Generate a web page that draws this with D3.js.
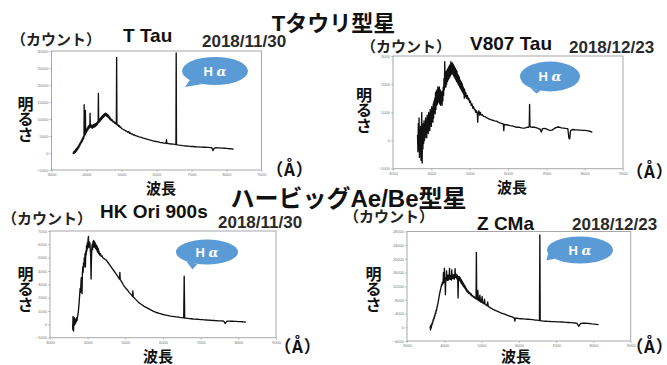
<!DOCTYPE html>
<html>
<head>
<meta charset="utf-8">
<script src="https://cdn.jsdelivr.net/npm/d3@7"></script>
<style>
  html, body { margin: 0; padding: 0; background: #fff; }
  svg { display: block; }
  .lbl { font-family: "Liberation Sans", "Noto Sans CJK JP", sans-serif; font-weight: bold; }
  .jp { font-family: "Noto Sans CJK JP", sans-serif; font-weight: bold; }
  .unit { font-family: "Noto Sans CJK JP", sans-serif; font-weight: bold; font-feature-settings: "palt" 1; }
  .tick text { font-family: "Liberation Sans", sans-serif; font-size: 4px; fill: #777; }
  .tick line { stroke: #999; stroke-width: 0.6; }
</style>
</head>
<body>
<svg id="chart" width="667" height="365"></svg>
<script>
// ---- spectra: [wavelength (Å), counts] ----
const tTau = [
  [3620,-300],[3630,300],[3640,-200],[3650,500],[3660,0],[3670,700],[3680,200],[3690,1000],[3700,400],[3710,1300],
  [3720,700],[3730,1500],[3740,1000],[3750,1800],[3760,1300],[3770,2100],[3780,1600],[3790,2500],[3800,2000],[3810,2900],
  [3820,2400],[3830,3200],[3840,2800],[3850,3600],[3860,3100],[3870,4000],[3880,3500],[3890,4400],[3900,3900],[3910,4900],
  [3920,4300],[3928,5200],[3934,14200],[3940,5000],[3950,5900],[3960,5300],[3968,12500],[3976,5800],[3985,6600],[3995,6000],
  [4005,7000],[4015,6400],[4025,7400],[4035,6800],[4045,7800],[4055,7100],[4065,8000],[4075,7300],[4085,8200],[4094,7600],
  [4102,11700],[4110,7700],[4120,8300],[4130,7500],[4140,8200],[4150,7400],[4160,8100],[4170,7300],[4180,8200],[4190,7500],
  [4200,8300],[4210,7600],[4220,8400],[4230,7700],[4240,8500],[4250,7800],[4260,8600],[4270,8000],[4280,8700],[4290,8200],
  [4300,9000],[4310,8400],[4320,9200],[4332,8800],[4340,17500],[4348,9000],[4360,9800],[4370,9200],[4380,10000],[4390,9400],
  [4400,10300],[4410,9700],[4420,10500],[4430,9900],[4440,10800],[4450,10200],[4460,11000],[4470,10400],[4480,11200],[4490,10600],
  [4500,11400],[4510,10800],[4520,11600],[4530,11000],[4540,11700],[4550,11000],[4560,11600],[4570,10900],[4580,11500],[4590,10800],
  [4600,11300],[4610,10600],[4620,11100],[4630,10400],[4640,10900],[4650,10200],[4660,10600],[4670,9900],[4680,10300],[4690,9700],
  [4700,10000],[4720,9500],[4740,9700],[4760,9100],[4780,9300],[4800,8800],[4820,9000],[4840,8500],[4853,8700],[4861,28100],
  [4869,8400],[4880,8200],[4900,8300],[4920,7800],[4940,8000],[4960,7500],[4980,7600],[5000,7200],[5030,7100],[5060,6800],
  [5090,6800],[5120,6500],[5150,6400],[5180,6100],[5210,6300],[5225,5800],[5250,5900],[5280,5600],[5310,5600],[5340,5300],
  [5370,5350],[5400,5100],[5450,4950],[5500,4750],[5550,4650],[5600,4450],[5650,4300],[5700,4150],[5750,4000],[5800,3850],
  [5850,3700],[5900,3550],[5950,3450],[6000,3350],[6050,3250],[6100,3100],[6150,3050],[6200,2950],[6250,2900],[6275,2850],
  [6285,3900],[6295,2850],[6330,2800],[6380,2700],[6430,2650],[6480,2600],[6530,2550],[6555,2500],[6563,29400],[6571,2500],
  [6600,2400],[6650,2300],[6700,2250],[6750,2150],[6800,2100],[6850,2050],[6900,2000],[6950,1950],[7000,1900],[7050,1900],
  [7100,1850],[7150,1800],[7200,1800],[7250,1750],[7300,1750],[7350,1700],[7400,1700],[7450,1650],[7500,1650],[7550,1600],
  [7580,1550],[7600,1000],[7615,700],[7630,1100],[7660,1450],[7700,1550],[7750,1500],[7800,1500],[7850,1450],[7900,1450],
  [7950,1400],[8000,1350],[8050,1300],[8100,1250],[8150,1200],[8200,1100]
];

const v807Tau = [
  [3640,200],[3650,-400],[3660,600],[3670,-300],[3680,800],[3690,-600],[3700,300],[3710,-200],[3720,500],[3730,-700],
  [3740,200],[3750,1000],[3760,-800],[3770,400],[3780,-300],[3790,600],[3800,-100],[3810,700],[3820,0],[3830,500],
  [3840,100],[3850,800],[3860,200],[3870,700],[3880,100],[3890,900],[3900,300],[3910,800],[3920,250],[3930,1000],
  [3940,400],[3950,900],[3960,350],[3970,1100],[3980,600],[3990,1000],[4000,500],[4010,1200],[4020,700],[4030,1100],
  [4040,650],[4050,1300],[4060,800],[4070,1400],[4080,1000],[4090,1500],[4100,950],[4110,1700],[4120,1100],[4130,1750],
  [4140,1250],[4150,1800],[4160,1300],[4170,1900],[4180,1400],[4190,1850],[4200,1350],[4210,1900],[4220,1300],[4230,1800],
  [4240,1250],[4250,1750],[4260,1300],[4270,1700],[4280,1250],[4290,1750],[4300,1400],[4310,1900],[4320,1600],[4330,2200],
  [4340,1800],[4350,2800],[4360,1900],[4370,2300],[4380,1900],[4390,2450],[4400,2000],[4410,2500],[4420,2100],[4430,2550],
  [4440,2150],[4450,2600],[4460,2200],[4470,2650],[4480,2250],[4490,2700],[4500,2300],[4510,2800],[4520,2350],[4530,2700],
  [4540,2400],[4550,2750],[4560,2350],[4570,2700],[4580,2300],[4590,2650],[4600,2250],[4610,2600],[4620,2200],[4630,2550],
  [4640,2150],[4650,2500],[4660,2100],[4670,2450],[4680,2050],[4690,2350],[4700,2000],[4710,2300],[4720,1950],[4730,2250],
  [4740,1900],[4750,2150],[4760,1850],[4770,2100],[4780,1800],[4790,2050],[4800,1750],[4810,2000],[4820,1700],[4830,1900],
  [4840,1650],[4850,1850],[4860,1500],[4870,1800],[4880,1550],[4900,1700],[4920,1500],[4940,1600],[4960,1450],[4980,1500],
  [5000,1350],[5020,1400],[5040,1250],[5060,1300],[5080,1150],[5100,1200],[5120,1100],[5140,1100],[5160,1000],[5180,1050],
  [5200,950],[5210,650],[5220,950],[5240,1050],[5260,900],[5280,1000],[5300,900],[5330,920],[5360,860],[5400,850],
  [5450,800],[5500,770],[5550,740],[5600,720],[5650,700],[5700,690],[5750,650],[5800,620],[5850,600],[5880,580],
  [5890,350],[5900,570],[5950,560],[6000,550],[6050,530],[6100,520],[6150,500],[6200,480],[6250,470],[6300,470],
  [6350,450],[6400,440],[6450,450],[6500,470],[6540,470],[6555,520],[6563,1280],[6572,520],[6590,480],[6650,470],
  [6700,470],[6750,450],[6800,420],[6840,400],[6870,300],[6900,420],[6950,430],[7000,410],[7050,380],[7100,360],
  [7150,370],[7200,420],[7250,460],[7300,480],[7350,470],[7400,450],[7450,440],[7500,430],[7560,420],[7590,80],
  [7610,60],[7630,340],[7660,380],[7700,390],[7750,380],[7800,380],[7850,370],[7900,370],[7950,360],[8000,360],
  [8050,350],[8100,340],[8150,320],[8200,300]
];

const hkOri = [
  [3600,0],[3605,-400],[3610,600],[3615,-300],[3620,400],[3625,-500],[3630,300],[3640,-100],[3650,500],[3660,0],
  [3670,300],[3680,100],[3690,400],[3700,200],[3710,500],[3720,300],[3730,600],[3740,700],[3750,900],[3760,1200],
  [3770,1500],[3780,1900],[3790,2300],[3800,2700],[3810,2400],[3820,3000],[3830,3500],[3840,3200],[3850,2300],[3860,3800],
  [3870,4300],[3880,3900],[3890,4600],[3900,4300],[3910,5000],[3920,4700],[3930,5300],[3940,4300],[3950,5500],[3960,5200],
  [3970,5900],[3980,5500],[3990,6100],[4000,5700],[4010,6300],[4020,6600],[4030,5800],[4040,6200],[4050,5800],[4060,6100],
  [4070,5600],[4080,5200],[4090,3400],[4100,4800],[4110,5700],[4120,6000],[4130,5600],[4140,6200],[4150,5800],[4160,6300],
  [4170,5800],[4180,6200],[4190,5800],[4200,6100],[4210,5700],[4220,6000],[4230,5600],[4240,5900],[4250,5500],[4260,5800],
  [4270,5400],[4280,5700],[4290,5300],[4300,5500],[4320,5200],[4340,5300],[4360,5100],[4380,5150],[4400,5000],[4450,4900],
  [4500,4800],[4550,4600],[4600,4400],[4650,4200],[4700,4000],[4750,3800],[4800,3600],[4845,3400],[4855,3900],[4865,3350],
  [4900,3200],[4950,2950],[5000,2750],[5050,2600],[5100,2400],[5150,2250],[5190,2100],[5200,2500],[5210,2050],[5250,1950],
  [5300,1800],[5350,1650],[5400,1550],[5450,1450],[5500,1350],[5550,1280],[5600,1200],[5650,1120],[5700,1050],[5750,980],
  [5800,920],[5850,870],[5900,820],[5950,780],[6000,740],[6050,710],[6100,680],[6150,650],[6200,620],[6250,600],
  [6300,580],[6350,560],[6400,540],[6450,520],[6500,510],[6550,490],[6563,3620],[6576,480],[6600,470],[6650,450],
  [6700,430],[6750,420],[6800,400],[6850,390],[6900,380],[6950,370],[7000,360],[7050,350],[7100,340],[7150,330],
  [7200,320],[7250,310],[7300,300],[7350,290],[7400,280],[7450,270],[7500,265],[7550,260],[7600,250],[7630,180],
  [7650,60],[7670,150],[7700,240],[7750,240],[7800,235],[7850,230],[7900,225],[7950,220],[8000,210],[8050,200],
  [8100,195],[8150,185],[8200,170]
];

const zCMa = [
  [3620,300],[3630,-800],[3640,600],[3650,-200],[3660,900],[3670,600],[3680,1500],[3690,1300],[3700,2200],[3710,2000],
  [3720,2800],[3730,2600],[3740,3500],[3750,3300],[3760,4200],[3770,4000],[3780,5000],[3790,4800],[3800,5600],[3810,6000],
  [3820,6600],[3830,7000],[3840,7700],[3850,8200],[3860,8900],[3870,9500],[3880,10100],[3890,10600],[3900,11100],[3910,11600],
  [3920,12000],[3930,12600],[3940,12300],[3950,13200],[3960,12700],[3970,13800],[3978,16000],[3986,13000],[3995,14000],[4003,17300],
  [4011,13500],[4020,14400],[4030,9500],[4040,14200],[4050,13600],[4060,16500],[4070,14000],[4080,14800],[4090,13700],[4101,15300],
  [4110,13800],[4120,14800],[4130,14000],[4140,17300],[4150,14200],[4160,15200],[4170,14000],[4180,15000],[4190,13800],[4200,16800],
  [4210,14300],[4220,15200],[4230,14200],[4240,15400],[4250,14300],[4260,15200],[4270,14100],[4280,15300],[4290,17100],[4300,14600],
  [4310,15600],[4320,14500],[4330,15400],[4340,14100],[4350,15200],[4360,14000],[4370,8600],[4380,13800],[4390,14900],[4400,13900],
  [4410,14700],[4420,13600],[4430,14400],[4440,13200],[4450,14100],[4460,12800],[4470,13600],[4480,12500],[4490,13300],[4500,12200],
  [4510,12900],[4520,11900],[4530,12500],[4540,11600],[4550,12200],[4560,11300],[4570,11800],[4580,10900],[4590,11400],[4600,10600],
  [4610,11000],[4620,10300],[4640,10600],[4660,9900],[4680,10200],[4700,9500],[4720,9800],[4740,9100],[4760,9300],[4780,8800],
  [4800,9000],[4820,8500],[4840,8600],[4852,8300],[4861,21900],[4870,8200],[4885,8100],[4900,10800],[4915,7900],[4935,7700],
  [4955,9400],[4970,7500],[4990,7300],[5015,9000],[5030,7100],[5060,6900],[5080,8200],[5095,6700],[5120,6500],[5145,6300],
  [5165,7400],[5180,6100],[5210,5900],[5240,5700],[5270,5500],[5300,5300],[5340,5100],[5380,4900],[5420,4700],[5460,4500],
  [5500,4300],[5550,4100],[5600,3900],[5650,3700],[5700,3500],[5750,3300],[5800,3100],[5850,2900],[5880,2700],[5893,1800],
  [5906,2700],[5950,2650],[6000,2550],[6060,2500],[6120,2450],[6180,2400],[6240,2350],[6300,2300],[6360,2250],[6420,2150],
  [6480,2100],[6530,2050],[6553,2000],[6563,27000],[6573,1950],[6610,1900],[6670,1800],[6730,1780],[6790,1750],[6850,1700],
  [6910,1680],[6970,1650],[7030,1600],[7090,1580],[7150,1550],[7210,1500],[7270,1450],[7330,1400],[7390,1350],[7450,1300],
  [7510,1250],[7560,1150],[7590,600],[7610,300],[7630,700],[7660,1150],[7720,1200],[7780,1200],[7840,1150],[7900,1100],
  [7960,1000],[8020,950],[8080,880],[8140,800]
];

// ---- axis ticks ----
const wavelengthTicks = [3000, 4000, 5000, 6000, 7000, 8000, 9000];
const tTauCountTicks = [-5000, 0, 5000, 10000, 15000, 20000, 25000, 30000];
const v807TauCountTicks = [-1000, 0, 1000, 2000, 3000];
const hkOriCountTicks = [-1000, 0, 1000, 2000, 3000, 4000, 5000, 6000, 7000];
const zCMaCountTicks = [-4000, 0, 4000, 8000, 12000, 16000, 20000, 24000, 28000];

// ---- labels ----
const groupTitles = ["Tタウリ型星", "ハービッグAe/Be型星"];
const starNames = ["T Tau", "V807 Tau", "HK Ori 900s", "Z CMa"];
const obsDates = ["2018/11/30", "2018/12/23", "2018/11/30", "2018/12/23"];
const spectra = [tTau, v807Tau, hkOri, zCMa];
const countTicks = [tTauCountTicks, v807TauCountTicks, hkOriCountTicks, zCMaCountTicks];
const countLabel = "（カウント）";
const brightnessLabel = "明るさ";
const wavelengthLabel = "波長";
const unitLabel = "（Å）";

// ---- layout of the four panels ----
const layout = [
  { box: [51.5, 261.5, 51, 170], count: [11, 45], name: [123, 42], date: [202, 47],
    bright: [25.5, 104], unit: [274, 176], wave: [161, 194],
    bubble: { cx: 215, cy: 71, rx: 33, ry: 14, tip: [185, 87], a0: 112, a1: 140 } },
  { box: [393, 623, 56, 168.7], count: [361, 52], name: [470, 50], date: [569, 53],
    bright: [364, 95], unit: [634, 178], wave: [512, 193],
    bubble: { cx: 550, cy: 76.5, rx: 30, ry: 15, tip: [536.5, 93.5], a0: 108, a1: 132 } },
  { box: [50, 276, 231, 337.7], count: [2, 224], name: [100, 218], date: [218, 228],
    bright: [25.5, 274], unit: [282, 353], wave: [158, 362],
    bubble: { cx: 207, cy: 252, rx: 31, ry: 12.5, tip: [192.5, 269.5], a0: 108, a1: 132 } },
  { box: [407, 630.7, 231.5, 341], count: [344, 222], name: [477, 230], date: [572, 230],
    bright: [373.5, 274], unit: [634, 353], wave: [516, 361.5],
    bubble: { cx: 580, cy: 250, rx: 33, ry: 13.5, tip: [546.5, 260.5], a0: 140, a1: 165 } }
];

const svg = d3.select("#chart");

// group headings
svg.append("text").attr("class", "lbl").attr("x", 333.5).attr("y", 31)
  .attr("text-anchor", "middle").attr("font-size", 22).attr("fill", "#111").text(groupTitles[0]);
svg.append("text").attr("class", "lbl").attr("x", 348.5).attr("y", 207)
  .attr("text-anchor", "middle").attr("font-size", 24).attr("fill", "#111").text(groupTitles[1]);

spectra.forEach((data, i) => {
  const L = layout[i];
  const [x0, x1, y0, y1] = L.box;
  const ticks = countTicks[i];
  const x = d3.scaleLinear().domain([3000, 9000]).range([x0, x1]);
  const y = d3.scaleLinear().domain([ticks[0], ticks[ticks.length - 1]]).range([y1, y0]);
  const g = svg.append("g");

  // frame
  g.append("rect").attr("x", x0).attr("y", y0).attr("width", x1 - x0).attr("height", y1 - y0)
    .attr("fill", "none").attr("stroke", "#a8a8a8").attr("stroke-width", 1);

  const ax = g.append("g").attr("transform", `translate(0,${y1})`)
    .call(d3.axisBottom(x).tickValues(wavelengthTicks).tickSize(2).tickPadding(1).tickFormat(d3.format("d")));
  ax.select(".domain").remove();
  const ay = g.append("g").attr("transform", `translate(${x0},0)`)
    .call(d3.axisLeft(y).tickValues(ticks).tickSize(2).tickPadding(1).tickFormat(d3.format("d")));
  ay.select(".domain").remove();

  // spectrum
  const line = d3.line().x(d => x(d[0])).y(d => y(d[1]));
  g.append("path").datum(data).attr("d", line)
    .attr("fill", "none").attr("stroke", "#111").attr("stroke-width", 1.35)
    .attr("stroke-linejoin", "round");

  // speech bubble marking H-alpha
  const b = L.bubble;
  const rad = a => a * Math.PI / 180;
  const p0 = [b.cx + b.rx * Math.cos(rad(b.a0)), b.cy + b.ry * Math.sin(rad(b.a0))];
  const p1 = [b.cx + b.rx * Math.cos(rad(b.a1)), b.cy + b.ry * Math.sin(rad(b.a1))];
  g.append("path").attr("d", `M${p0[0]},${p0[1]}L${b.tip[0]},${b.tip[1]}L${p1[0]},${p1[1]}Z`)
    .attr("fill", "#5b9bd5");
  g.append("ellipse").attr("cx", b.cx).attr("cy", b.cy).attr("rx", b.rx).attr("ry", b.ry)
    .attr("fill", "#5b9bd5");
  const ha = g.append("text").attr("class", "lbl").attr("x", b.cx).attr("y", b.cy + 4.5)
    .attr("text-anchor", "middle").attr("font-size", 13).attr("fill", "#fff");
  ha.append("tspan").text("H ");
  ha.append("tspan").attr("font-style", "italic").attr("font-family", "DejaVu Serif").text("α");

  // labels
  g.append("text").attr("class", "jp").attr("x", L.count[0]).attr("y", L.count[1])
    .attr("font-size", 15).attr("fill", "#222").text(countLabel);
  g.append("text").attr("class", "lbl").attr("x", L.name[0]).attr("y", L.name[1])
    .attr("font-size", 19).attr("fill", "#111").text(starNames[i]);
  g.append("text").attr("class", "lbl").attr("x", L.date[0]).attr("y", L.date[1])
    .attr("font-size", 17).attr("fill", "#2a2a2a").text(obsDates[i]);
  Array.from(brightnessLabel).forEach((ch, k) => {
    g.append("text").attr("class", "jp").attr("x", L.bright[0]).attr("y", L.bright[1] + 5.5 + k * 15.5)
      .attr("text-anchor", "middle").attr("font-size", 16).attr("fill", "#111").text(ch);
  });
  g.append("text").attr("class", "unit").attr("x", L.unit[0]).attr("y", L.unit[1])
    .attr("font-size", 17).attr("letter-spacing", 1.5).attr("fill", "#111").text(unitLabel);
  g.append("text").attr("class", "jp").attr("x", L.wave[0]).attr("y", L.wave[1])
    .attr("text-anchor", "middle").attr("font-size", 15).attr("fill", "#111").text(wavelengthLabel);
});
</script>
</body>
</html>
